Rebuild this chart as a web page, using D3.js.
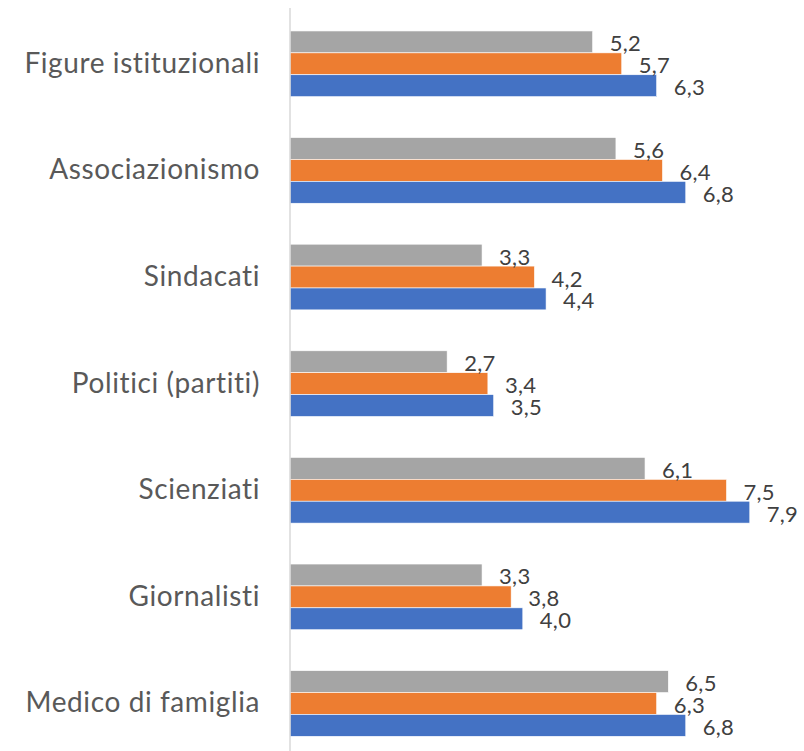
<!DOCTYPE html>
<html>
<head>
<meta charset="utf-8">
<script src="https://cdn.jsdelivr.net/npm/d3@7"></script>
<style>
  html, body { margin: 0; padding: 0; background: #fff; }
  svg { display: block; }
</style>
</head>
<body>
<svg id="chart" width="804" height="751"></svg>
<script>
const categories = ["Figure istituzionali", "Associazionismo", "Sindacati", "Politici (partiti)", "Scienziati", "Giornalisti", "Medico di famiglia"];
const seriesNames = ["Serie 3", "Serie 2", "Serie 1"]; // top to bottom within a group
const serie1 = [6.3, 6.8, 4.4, 3.5, 7.9, 4.0, 6.8]; // blue
const serie2 = [5.7, 6.4, 4.2, 3.4, 7.5, 3.8, 6.3]; // orange
const serie3 = [5.2, 5.6, 3.3, 2.7, 6.1, 3.3, 6.5]; // gray
const seriesColors = {"Serie 1": "#4472C4", "Serie 2": "#ED7D31", "Serie 3": "#A5A5A5"};
const seriesValues = {"Serie 1": serie1, "Serie 2": serie2, "Serie 3": serie3};
const xDomain = [0, 8];

const svg = d3.select("#chart");
const x = d3.scaleLinear().domain(xDomain).range([290, 755.6]);
const y = d3.scaleBand().domain(categories).range([10.5, 756.8]).paddingInner(0.384).paddingOuter(0.192);
const yInner = d3.scaleBand().domain(seriesNames).range([0, y.bandwidth()]).padding(0);

const locale = d3.formatLocale({decimal: ",", thousands: ".", grouping: [3], currency: ["€", ""]});
const fmt = locale.format(".1f");

const groups = svg.append("g").selectAll("g")
  .data(categories)
  .join("g")
  .attr("transform", d => `translate(0,${y(d)})`);

const barData = (c, i) => seriesNames.map(s => ({s, v: seriesValues[s][i]}));

groups.selectAll("rect")
  .data((c, i) => barData(c, i))
  .join("rect")
  .attr("x", x(0))
  .attr("y", d => yInner(d.s))
  .attr("width", d => x(d.v) - x(0))
  .attr("height", yInner.bandwidth())
  .attr("fill", d => seriesColors[d.s])
  .attr("stroke", "#ffffff")
  .attr("stroke-width", 0.6);

groups.selectAll("text.val")
  .data((c, i) => barData(c, i))
  .join("text")
  .attr("class", "val")
  .attr("x", d => x(d.v) + 17)
  .attr("y", d => yInner(d.s) + yInner.bandwidth() / 2 + 9.5)
  .attr("font-family", "Lato, 'Open Sans', sans-serif")
  .attr("font-size", 22)
  .attr("letter-spacing", 0.3)
  .attr("fill", "#404040")
  .text(d => fmt(d.v));

// category axis
const yAxis = d3.axisLeft(y).tickSize(0).tickPadding(30);
const ax = svg.append("g").attr("transform", `translate(${x(0)},0)`).call(yAxis);
ax.select(".domain").remove();
ax.selectAll("text")
  .attr("font-family", "Lato, 'Open Sans', sans-serif")
  .attr("font-size", 28)
  .attr("letter-spacing", 0.6)
  .attr("fill", "#595959");

svg.append("line")
  .attr("x1", x(0)).attr("x2", x(0))
  .attr("y1", 8).attr("y2", 751)
  .attr("stroke", "#D9D9D9")
  .attr("stroke-width", 1.5);
</script>
</body>
</html>
